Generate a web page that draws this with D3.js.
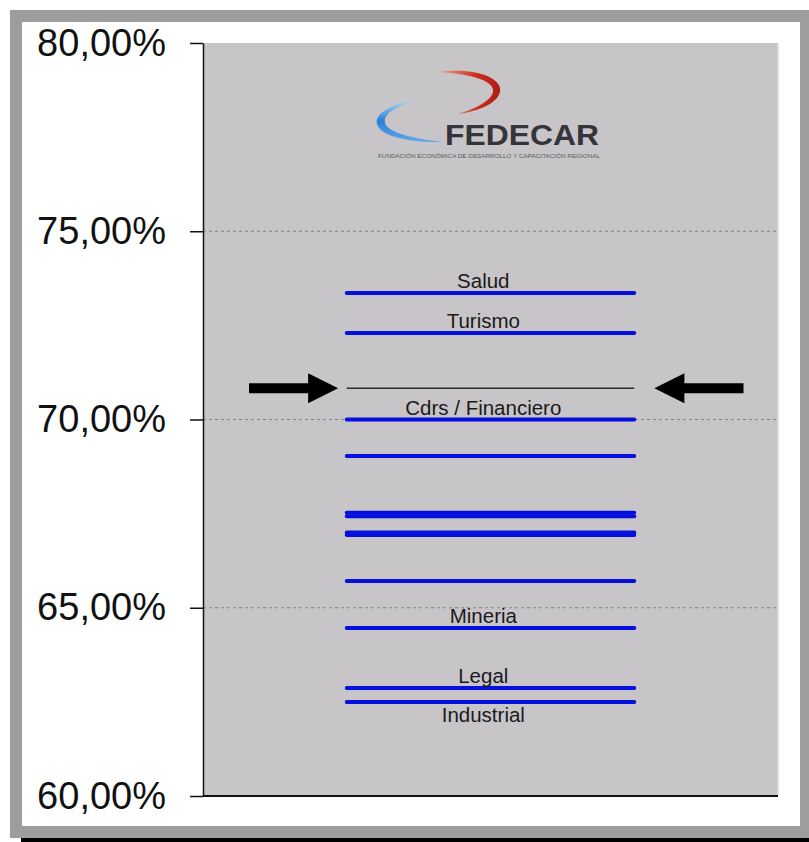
<!DOCTYPE html>
<html>
<head>
<meta charset="utf-8">
<script src="https://cdn.jsdelivr.net/npm/d3@7"></script>
<style>
  body { margin: 0; background: #fff; }
  svg { display: block; }
</style>
</head>
<body>
<svg></svg>
<script>
// sector results (percent)
const sectors = ["Salud", "Turismo", "Cdrs / Financiero", "", "", "", "", "", "", "Mineria", "Legal", "Industrial"]
const values = [73.36, 72.30, 70.00, 69.03, 67.52, 67.43, 67.00, 66.93, 65.71, 64.46, 62.87, 62.50]
const labelBelow = ["Industrial"]
const promedio = 70.83
const yTicks = [60, 65, 70, 75, 80]
const gridTicks = [65, 70, 75]

const width = 809
const height = 842

const svg = d3.select("svg")
    .attr("width", width)
    .attr("height", height)

// frame
svg.append("rect").attr("x", 21).attr("y", 838).attr("width", 788).attr("height", 4).style("fill", "#000")
svg.append("rect").attr("x", 10).attr("y", 10).attr("width", 799).attr("height", 828).style("fill", "#9d9d9d")
svg.append("rect").attr("x", 22).attr("y", 22).attr("width", 778).attr("height", 804).style("fill", "#fff")

const plot = { left: 203, right: 778, top: 43, bottom: 796 }

const x = d3.scaleLinear()
    .domain([0, 4])
    .range([plot.left, plot.right])

const y = d3.scaleLinear()
    .domain([60, 80])
    .range([plot.bottom, plot.top])

// plot background
svg.append("rect")
    .attr("x", plot.left)
    .attr("y", plot.top)
    .attr("width", plot.right - plot.left)
    .attr("height", plot.bottom - plot.top)
    .style("fill", "#c8c5c9")
svg.append("line")
    .attr("x1", plot.right).attr("x2", plot.right)
    .attr("y1", plot.top).attr("y2", plot.bottom)
    .style("stroke", "#dcdadc").style("stroke-width", 1.5)

// dashed grid
svg.append("g")
    .selectAll("line")
    .data(gridTicks)
    .join("line")
    .attr("x1", plot.left)
    .attr("x2", plot.right)
    .attr("y1", d => y(d))
    .attr("y2", d => y(d))
    .style("stroke", "#858386")
    .style("stroke-width", 1)
    .style("stroke-dasharray", "3,3")

// logo
const defs = svg.append("defs")
const redGrad = defs.append("linearGradient").attr("id", "redArc").attr("x1", "0").attr("x2", "1").attr("y1", "0").attr("y2", "0")
redGrad.append("stop").attr("offset", "0%").attr("stop-color", "#e8b090")
redGrad.append("stop").attr("offset", "60%").attr("stop-color", "#d0301e")
redGrad.append("stop").attr("offset", "100%").attr("stop-color", "#b01c16")
const blueGrad = defs.append("linearGradient").attr("id", "blueArc").attr("x1", "0").attr("x2", "0").attr("y1", "0").attr("y2", "1")
blueGrad.append("stop").attr("offset", "0%").attr("stop-color", "#a8d8f4")
blueGrad.append("stop").attr("offset", "50%").attr("stop-color", "#2a80d8")
blueGrad.append("stop").attr("offset", "100%").attr("stop-color", "#60a8e8")

const logo = svg.append("g")
logo.append("path")
    .attr("d", "M437,72 C478,67 503,79 500,92 C497,104 478,111 458,114 C475,109 491,101 493,92 C495,82 475,74 437,72 Z")
    .style("fill", "url(#redArc)")
logo.append("path")
    .attr("d", "M418,100 C392,103 374,114 377,124 C380,136 408,143 445,142 C412,139 387,132 385,123 C383,114 396,106 418,100 Z")
    .style("fill", "url(#blueArc)")
logo.append("text")
    .attr("x", 445).attr("y", 145)
    .attr("textLength", 154).attr("lengthAdjust", "spacingAndGlyphs")
    .text("FEDECAR")
    .style("font-family", "Liberation Sans, Arial, sans-serif")
    .style("font-size", "29px")
    .style("font-weight", "bold")
    .style("fill", "#34343a")
logo.append("text")
    .attr("x", 378).attr("y", 158)
    .attr("textLength", 222).attr("lengthAdjust", "spacingAndGlyphs")
    .text("FUNDACIÓN ECONÓMICA DE DESARROLLO Y CAPACITACIÓN REGIONAL")
    .style("font-family", "Liberation Sans, Arial, sans-serif")
    .style("font-size", "5px")
    .style("fill", "#5a5a60")

// left axis
const leftAxis = svg.append("g")
    .attr("transform", `translate(${plot.left}, 0)`)
    .call(d3.axisLeft(y)
        .tickValues(yTicks)
        .tickSize(13)
        .tickSizeOuter(0)
        .tickPadding(24)
        .tickFormat(d => d3.format(".2f")(d).replace(".", ",") + "%"))
leftAxis.select(".domain").style("stroke", "#111").style("stroke-width", 1.5)
leftAxis.selectAll(".tick line").style("stroke", "#111").style("stroke-width", 1.5)
leftAxis.selectAll("text")
    .style("font-family", "Liberation Sans, Arial, sans-serif")
    .style("font-size", "38px")
    .style("fill", "#111")

// bottom line
svg.append("line")
    .attr("x1", plot.left).attr("x2", plot.right)
    .attr("y1", y(60)).attr("y2", y(60))
    .style("stroke", "#111").style("stroke-width", 2)

// sector lines
svg.append("g")
    .selectAll("line")
    .data(values)
    .join("line")
    .attr("x1", x(1))
    .attr("x2", x(3))
    .attr("y1", d => y(d))
    .attr("y2", d => y(d))
    .style("stroke", "#0610dc")
    .style("stroke-width", 4)
    .style("stroke-linecap", "round")

// average line
svg.append("line")
    .attr("x1", x(1)).attr("x2", x(3))
    .attr("y1", y(promedio)).attr("y2", y(promedio))
    .style("stroke", "#2a2a2a")
    .style("stroke-width", 1.5)

// labels
svg.append("g")
    .selectAll("text")
    .data(sectors.map((s, i) => ({ s, v: values[i] })).filter(d => d.s !== ""))
    .join("text")
    .attr("x", x(1.95))
    .attr("y", d => labelBelow.includes(d.s) ? y(d.v) + 20 : y(d.v) - 5)
    .attr("text-anchor", "middle")
    .text(d => d.s)
    .style("font-family", "Liberation Sans, Arial, sans-serif")
    .style("font-size", "20.5px")
    .style("fill", "#1a1a1a")

// arrows pointing to the average
function arrow(tail, tip) {
    const ay = y(promedio)
    const dir = Math.sign(tip - tail)
    const base = tip - dir * 30
    return `M${tail},${ay - 5} L${base},${ay - 5} L${base},${ay - 15} L${tip},${ay} L${base},${ay + 15} L${base},${ay + 5} L${tail},${ay + 5} Z`
}
svg.append("path").attr("d", arrow(x(0.32), x(0.94))).style("fill", "#000")
svg.append("path").attr("d", arrow(x(3.76), x(3.14))).style("fill", "#000")
</script>
</body>
</html>
